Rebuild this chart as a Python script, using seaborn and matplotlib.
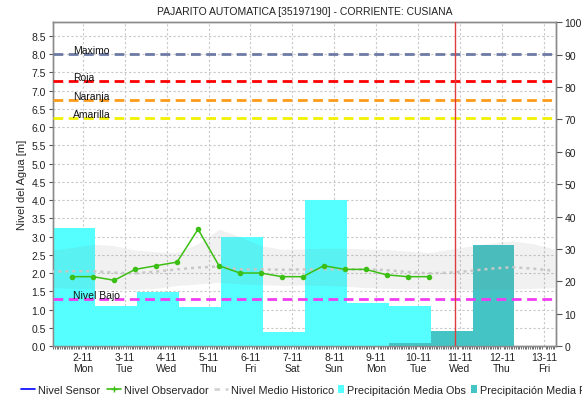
import numpy as np
import matplotlib
matplotlib.use("Agg")
import matplotlib.pyplot as plt
import matplotlib.transforms as mtransforms
from matplotlib.lines import Line2D
from matplotlib.patches import Patch
from matplotlib.ticker import MultipleLocator, FormatStrFormatter
import seaborn as sns

# ---- x axis: days of November ----
day_ticks = [2, 3, 4, 5, 6, 7, 8, 9, 10, 11, 12, 13]
weekdays = ["Mon", "Tue", "Wed", "Thu", "Fri", "Sat", "Sun",
            "Mon", "Tue", "Wed", "Thu", "Fri"]

# ---- observer readings (m), two per day ----
obs_x = [1.75, 2.25, 2.75, 3.25, 3.75, 4.25, 4.75, 5.25, 5.75,
         6.25, 6.75, 7.25, 7.75, 8.25, 8.75, 9.25, 9.75, 10.25]
obs_level = [1.9, 1.9, 1.8, 2.1, 2.2, 2.3, 3.2, 2.2, 2.0,
             2.0, 1.9, 1.9, 2.2, 2.1, 2.1, 1.95, 1.9, 1.9]

# ---- historical statistics (m) ----
hist_x = [1.25, 1.75, 2.25, 2.75, 3.25, 3.75, 4.25, 4.75, 5.25, 5.75,
          6.25, 6.75, 7.25, 7.75, 8.25, 8.75, 9.25, 9.75, 10.25, 10.75,
          11.25, 11.75, 12.25, 12.75, 13.25]
hist_mean = [2.04, 2.05, 2.05, 2.01, 1.99, 2.04, 2.10, 2.15, 2.18, 2.10,
             2.10, 2.09, 2.10, 2.10, 2.10, 2.10, 2.08, 2.03, 1.99, 2.01,
             2.06, 2.12, 2.16, 2.12, 2.06]
hist_low = [1.60, 1.58, 1.57, 1.55, 1.55, 1.58, 1.66, 1.70, 1.74, 1.70,
            1.68, 1.66, 1.67, 1.66, 1.64, 1.60, 1.58, 1.57, 1.57, 1.56,
            1.55, 1.55, 1.56, 1.58, 1.60]
hist_high = [2.62, 2.70, 2.79, 2.75, 2.63, 2.58, 2.56, 2.80, 3.20, 3.00,
             2.75, 2.65, 2.66, 2.68, 2.68, 2.66, 2.64, 2.60, 2.56, 2.65,
             2.74, 2.82, 2.88, 2.80, 2.66]

# ---- daily precipitation (mm) ----
precip_obs_day = [2, 3, 4, 5, 6, 7, 8, 9, 10]
precip_obs = [36.6, 12.4, 16.7, 12.1, 33.6, 4.3, 45.2, 13.2, 12.4]
precip_pred_day = [10, 11, 12]
precip_pred = [0.85, 4.65, 31.3]

# ---- alert thresholds (m) ----
thr_names = ["Maximo", "Roja", "Naranja", "Amarilla", "Nivel Bajo"]
thr_values = [8.0, 7.25, 6.75, 6.25, 1.3]
thr_colors = ["#6e7aa6", "#ff0000", "#ff9a1a", "#f2f200", "#f23cf2"]

now_x = 10.88

sns.set_theme(style="white")
plt.rcParams["font.family"] = ["Liberation Sans", "DejaVu Sans"]
plt.rcParams["text.color"] = "#222222"

fig = plt.figure(figsize=(5.82, 4.02), dpi=100)
ax = fig.add_axes([0.0911, 0.1368, 0.8642, 0.8052])
ax2 = ax.twinx()
ax3 = fig.add_axes(ax.get_position(), sharex=ax, sharey=ax)
ax3.patch.set_visible(False)
ax3.axis("off")

# grid on the level axis (drawn beneath the bars)
ax.grid(True, color="#c8c8c8", linestyle=(0, (2, 2)), linewidth=0.8)

# precipitation bars, one day wide ending 0.3 day after the tick
bar_shift = -0.2
ax2.bar([d + bar_shift for d in precip_obs_day], precip_obs, width=1.0,
        color="#55ffff", linewidth=0, align="center")
ax2.bar([d + bar_shift for d in precip_pred_day], precip_pred, width=1.0,
        color="#44c4c4", linewidth=0, align="center")
ax2.set_ylim(0, 100)

# historical band, mean and observer readings
ax3.fill_between(hist_x, hist_low, hist_high, color="#808080", alpha=0.11,
                 linewidth=0)
sns.lineplot(x=hist_x, y=hist_mean, ax=ax3, color="#c8c8c8", linewidth=1.8,
             linestyle=(0, (1.2, 1.6)))
sns.lineplot(x=obs_x, y=obs_level, ax=ax3, color="#3cbf14", linewidth=1.1,
             marker="o", markersize=4, markeredgewidth=0)

# threshold lines with labels
lab_tr = mtransforms.blended_transform_factory(ax3.transAxes, ax3.transData)
for name, val, col in zip(thr_names, thr_values, thr_colors):
    ax3.axhline(val, color=col, linewidth=2, linestyle=(0, (3.5, 2)))
    ax3.annotate(name, xy=(0.04, val), xycoords=lab_tr, xytext=(0, 4),
                 textcoords="offset pixels", ha="left", va="center",
                 fontsize=7.5, color="#111111")

# current time marker
ax3.axvline(now_x, color="#e03c3c", linewidth=1)

# axes limits and ticks
ax.set_xlim(1.29, 13.29)
ax.set_ylim(0, 8.87)
ax.set_xticks(day_ticks)
ax.set_xticklabels([f"{d}-11\n{w}" for d, w in zip(day_ticks, weekdays)])
ax.xaxis.set_minor_locator(MultipleLocator(1 / 24))
ax.yaxis.set_major_locator(MultipleLocator(0.5))
ax.yaxis.set_major_formatter(FormatStrFormatter("%.1f"))
ax2.yaxis.set_major_locator(MultipleLocator(10))

for a in (ax, ax2):
    for s in a.spines.values():
        s.set_color("#8a8a8a")
        s.set_linewidth(1)
ax.tick_params(axis="both", which="major", labelsize=7.5, colors="#222222",
               length=3, width=0.8, direction="out", pad=2)
ax.tick_params(axis="x", which="major", length=0, pad=4)
ax.tick_params(axis="x", which="minor", length=2, width=0.6,
               color="#555555", direction="out", bottom=True)
ax.tick_params(axis="y", which="major", left=True, color="#555555")
ax2.tick_params(axis="y", labelsize=7.5, colors="#222222", length=4,
                width=0.8, direction="out", pad=2, right=True)
ax2.tick_params(axis="y", color="#555555")

ax.set_ylabel("Nivel del Agua [m]", fontsize=8, labelpad=3)
ax.set_title("PAJARITO AUTOMATICA [35197190] - CORRIENTE: CUSIANA",
             fontsize=7.5, pad=6, color="#222222")

# legend entries along the bottom, each starting at its own x (pixels)
legend_items = [
    (21, Line2D([], [], color="#0000ff", linewidth=1.2), "Nivel Sensor", 1.25),
    (107, Line2D([], [], color="#3cbf14", linewidth=1.2, marker="+",
                 markersize=4, markeredgewidth=1), "Nivel Observador", 1.25),
    (214, Line2D([], [], color="#d4d4d4", linewidth=2,
                 linestyle=(0, (2, 2))), "Nivel Medio Historico", 1.25),
    (338, Patch(facecolor="#55ffff", linewidth=0),
     "Precipitación Media Obs", 0.55),
    (471, Patch(facecolor="#44c4c4", linewidth=0),
     "Precipitación Media Predicha", 0.55),
]
for x_px, handle, label, hlen in legend_items:
    leg = fig.legend([handle], [label], loc="center left",
                     bbox_to_anchor=(x_px / 582, 0.028), frameon=False,
                     fontsize=7.8, handlelength=hlen, handleheight=0.85,
                     handletextpad=0.32, borderpad=0, borderaxespad=0)

fig.savefig("out.png", dpi=100)
